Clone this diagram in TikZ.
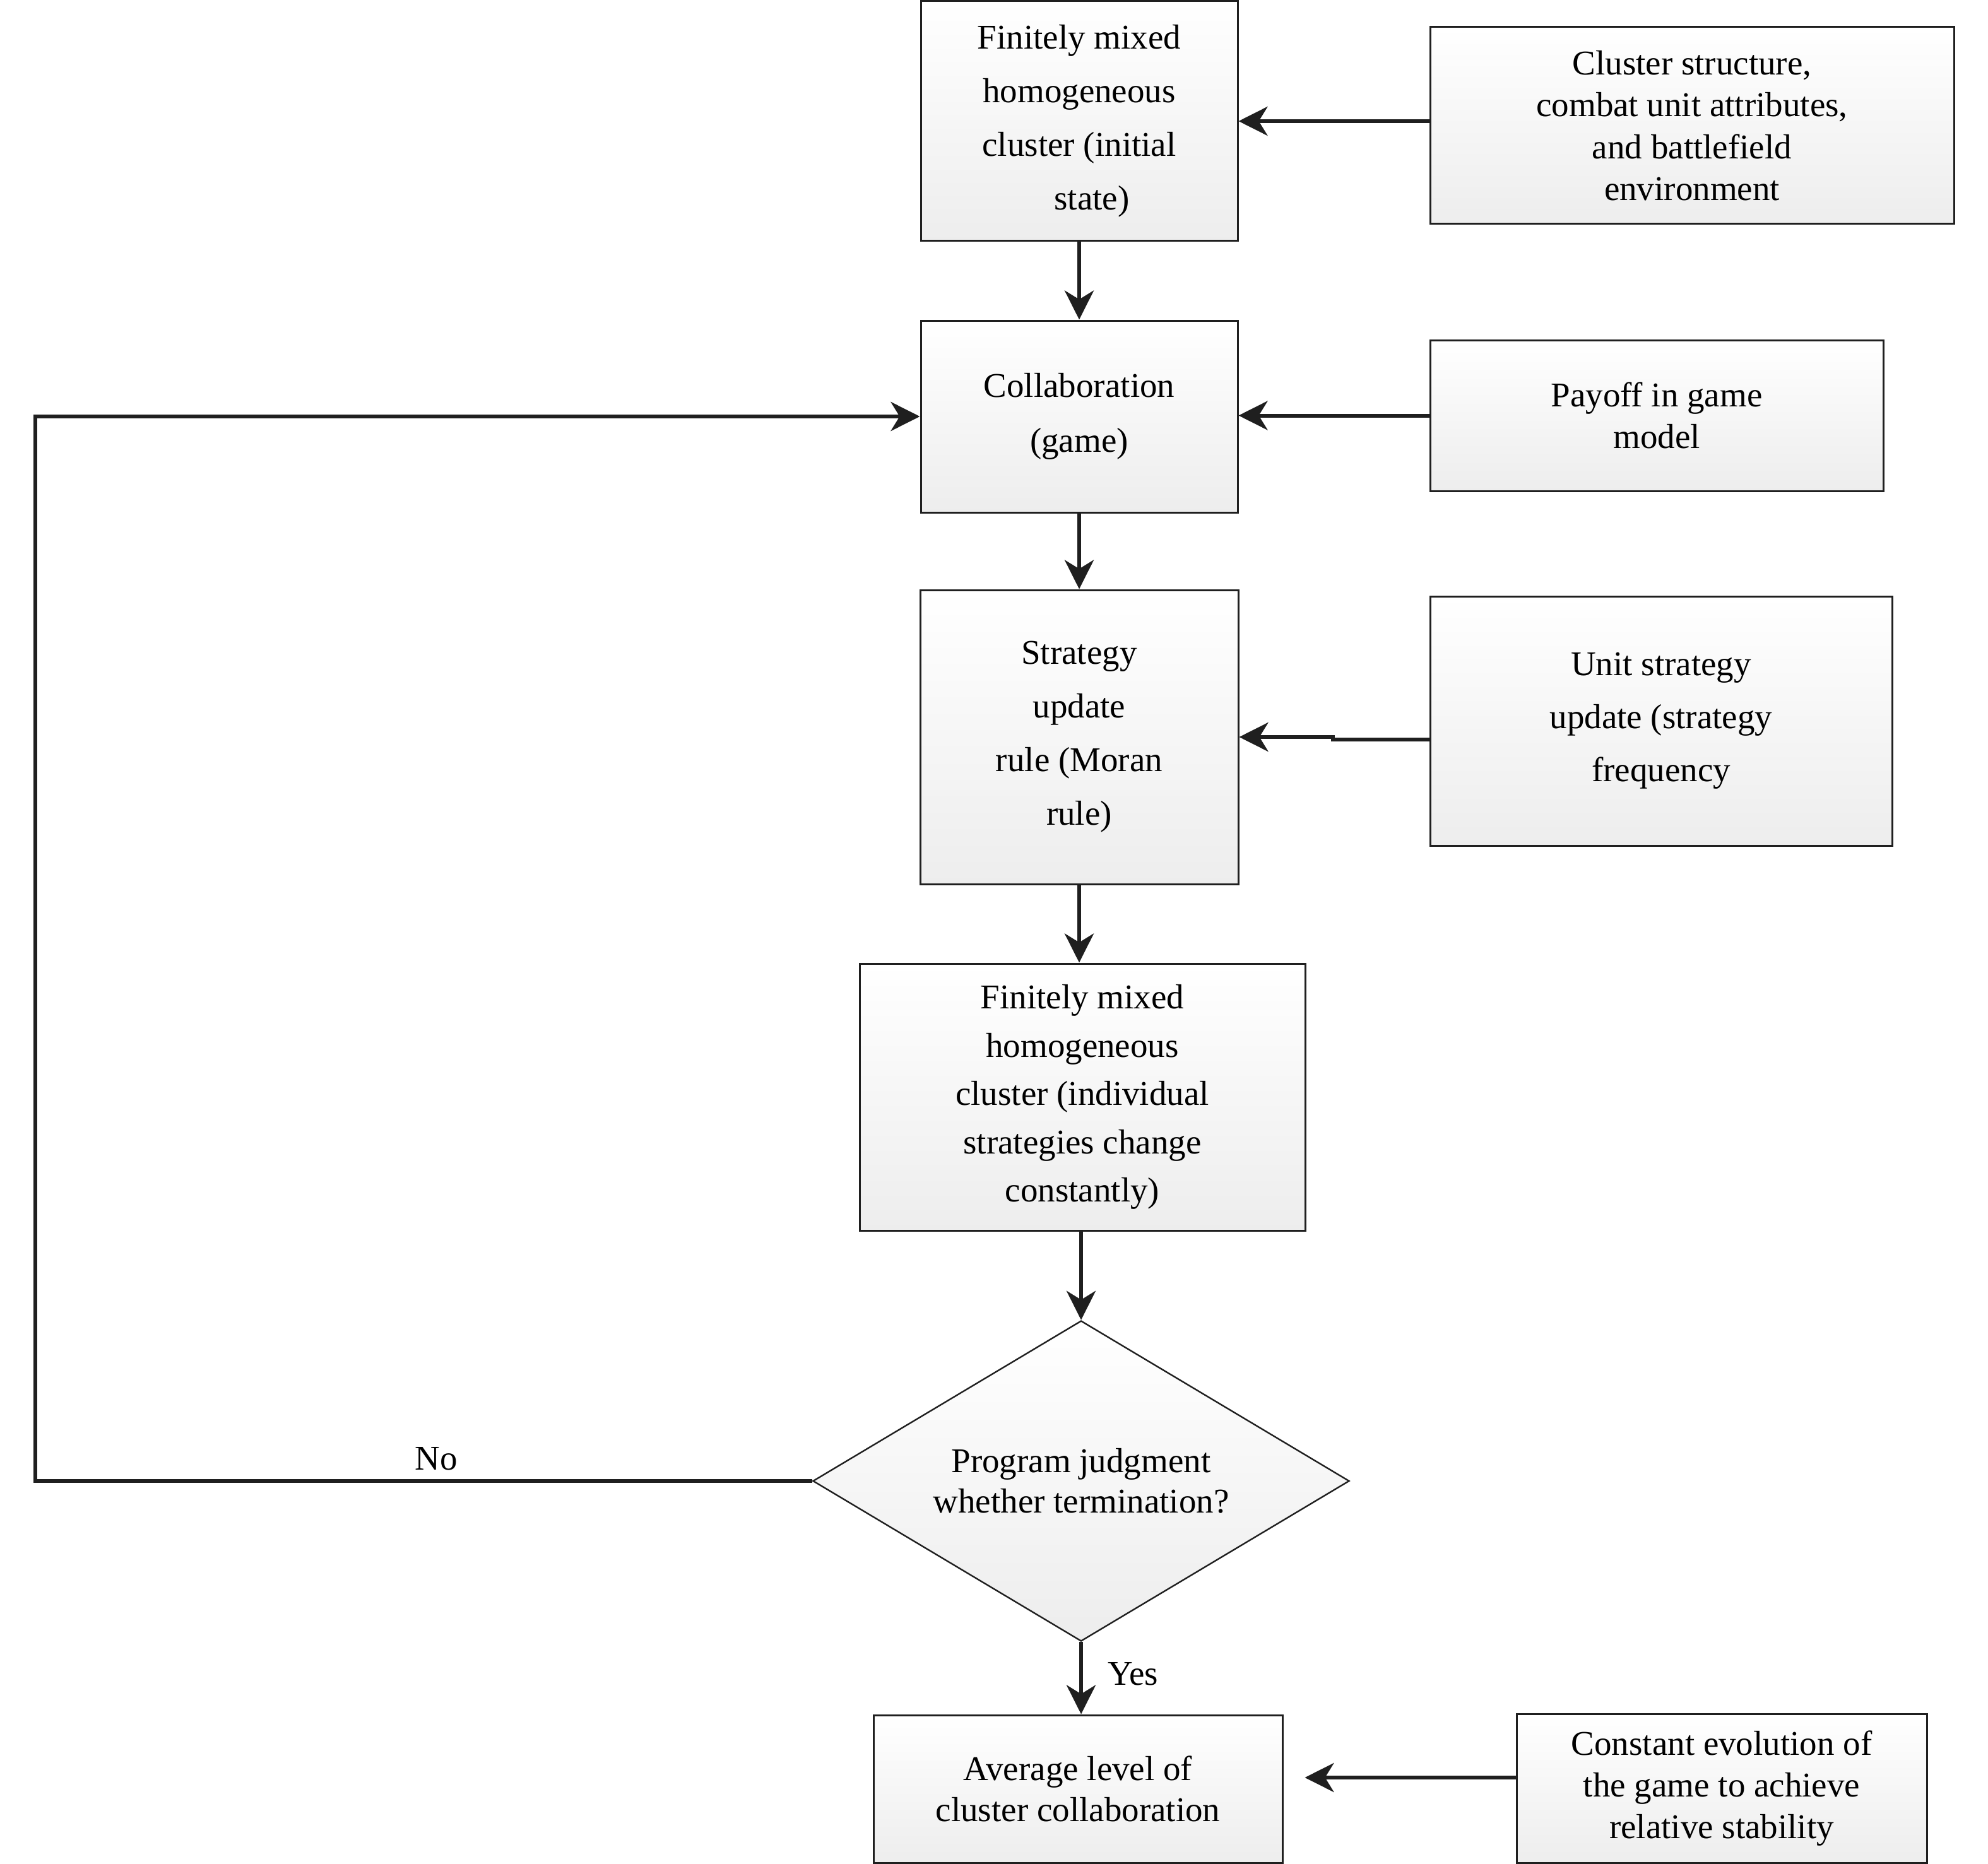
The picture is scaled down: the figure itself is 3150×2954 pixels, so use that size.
\documentclass[tikz,border=0pt]{standalone}
\usepackage{fontspec}
\setmainfont{Liberation Serif}
\usetikzlibrary{shapes.geometric,arrows.meta}
\begin{document}
\begin{tikzpicture}[x=0.25pt,y=-0.25pt,
  box/.style={draw=black!88, line width=0.75pt, rectangle, top color=white, bottom color=black!7, align=center, inner sep=0pt},
  fs/.style={font=\fontsize{13.75pt}{#1}\selectfont},
  conn/.style={draw=black!88, line width=1.5pt, -{Stealth[length=11.5pt,width=11.5pt,inset=3.5pt]}},
]
\useasboundingbox (0,0) rectangle (3150,2954);

\node[box, fs=21.25pt, minimum width=125.5pt, minimum height=95pt] (A) at (1710,192)
  {Finitely mixed\\homogeneous\\cluster (initial\\\hspace*{10pt}state)};
\node[box, fs=16.6pt, minimum width=207.5pt, minimum height=78pt] (B) at (2681,199)
  {Cluster structure,\\combat unit attributes,\\and battlefield\\environment};
\node[box, fs=21.75pt, minimum width=125.5pt, minimum height=76pt] (C) at (1710,660)
  {Collaboration\\(game)};
\node[box, fs=16.6pt, minimum width=179.5pt, minimum height=59.75pt] (D) at (2625,658.5)
  {Payoff in game\\model};
\node[box, fs=21.25pt, minimum width=126pt, minimum height=116.5pt] (E) at (1710,1168)
  {Strategy\\update\\rule (Moran\\rule)};
\node[box, fs=21pt, minimum width=183pt, minimum height=98.75pt] (F) at (2632,1142.5)
  {Unit strategy\\update (strategy\\frequency};
\node[box, fs=19.15pt, minimum width=176.5pt, minimum height=105.75pt] (G) at (1715,1738.5)
  {Finitely mixed\\homogeneous\\cluster (individual\\strategies change\\constantly)};
\node[box, diamond, line width=0.6pt, shape aspect=1.67, fs=16.1pt, minimum width=212.5pt, minimum height=127pt] (Dia) at (1713,2347)
  {Program judgment\\whether termination?};
\node[box, fs=16.1pt, minimum width=162pt, minimum height=58.5pt] (H) at (1708,2835)
  {Average level of\\cluster collaboration};
\node[box, fs=16.6pt, minimum width=162.5pt, minimum height=59pt] (I) at (2728,2834)
  {Constant evolution of\\the game to achieve\\relative stability};

\node[fs=16pt] (no) at (691,2312) {No};
\node[fs=16pt] (yes) at (1795,2653) {Yes};

\coordinate (L) at (56,2347);

\draw[conn] (A.south) -- (A.south |- C.north);
\draw[conn] (C.south) -- (C.south |- E.north);
\draw[conn] (E.south) -- (E.south |- G.north);
\draw[conn] (Dia.north |- G.south) -- (Dia.north);
\draw[conn] (Dia.south) -- (Dia.south |- H.north);
\draw[conn] (B.west |- A.east) -- (A.east);
\draw[conn] (D.west) -- (D.west -| C.east);
\draw[conn] ([yshift=-7.4pt]F.west) -- ++(-153,0) |- (E.east);
\draw[conn, shorten >=8.5pt] ([yshift=4.25pt]I.west) -- ([yshift=4.25pt]I.west -| H.east);
\draw[conn] (Dia.west) -- (L) |- (C.west);
\end{tikzpicture}
\end{document}
